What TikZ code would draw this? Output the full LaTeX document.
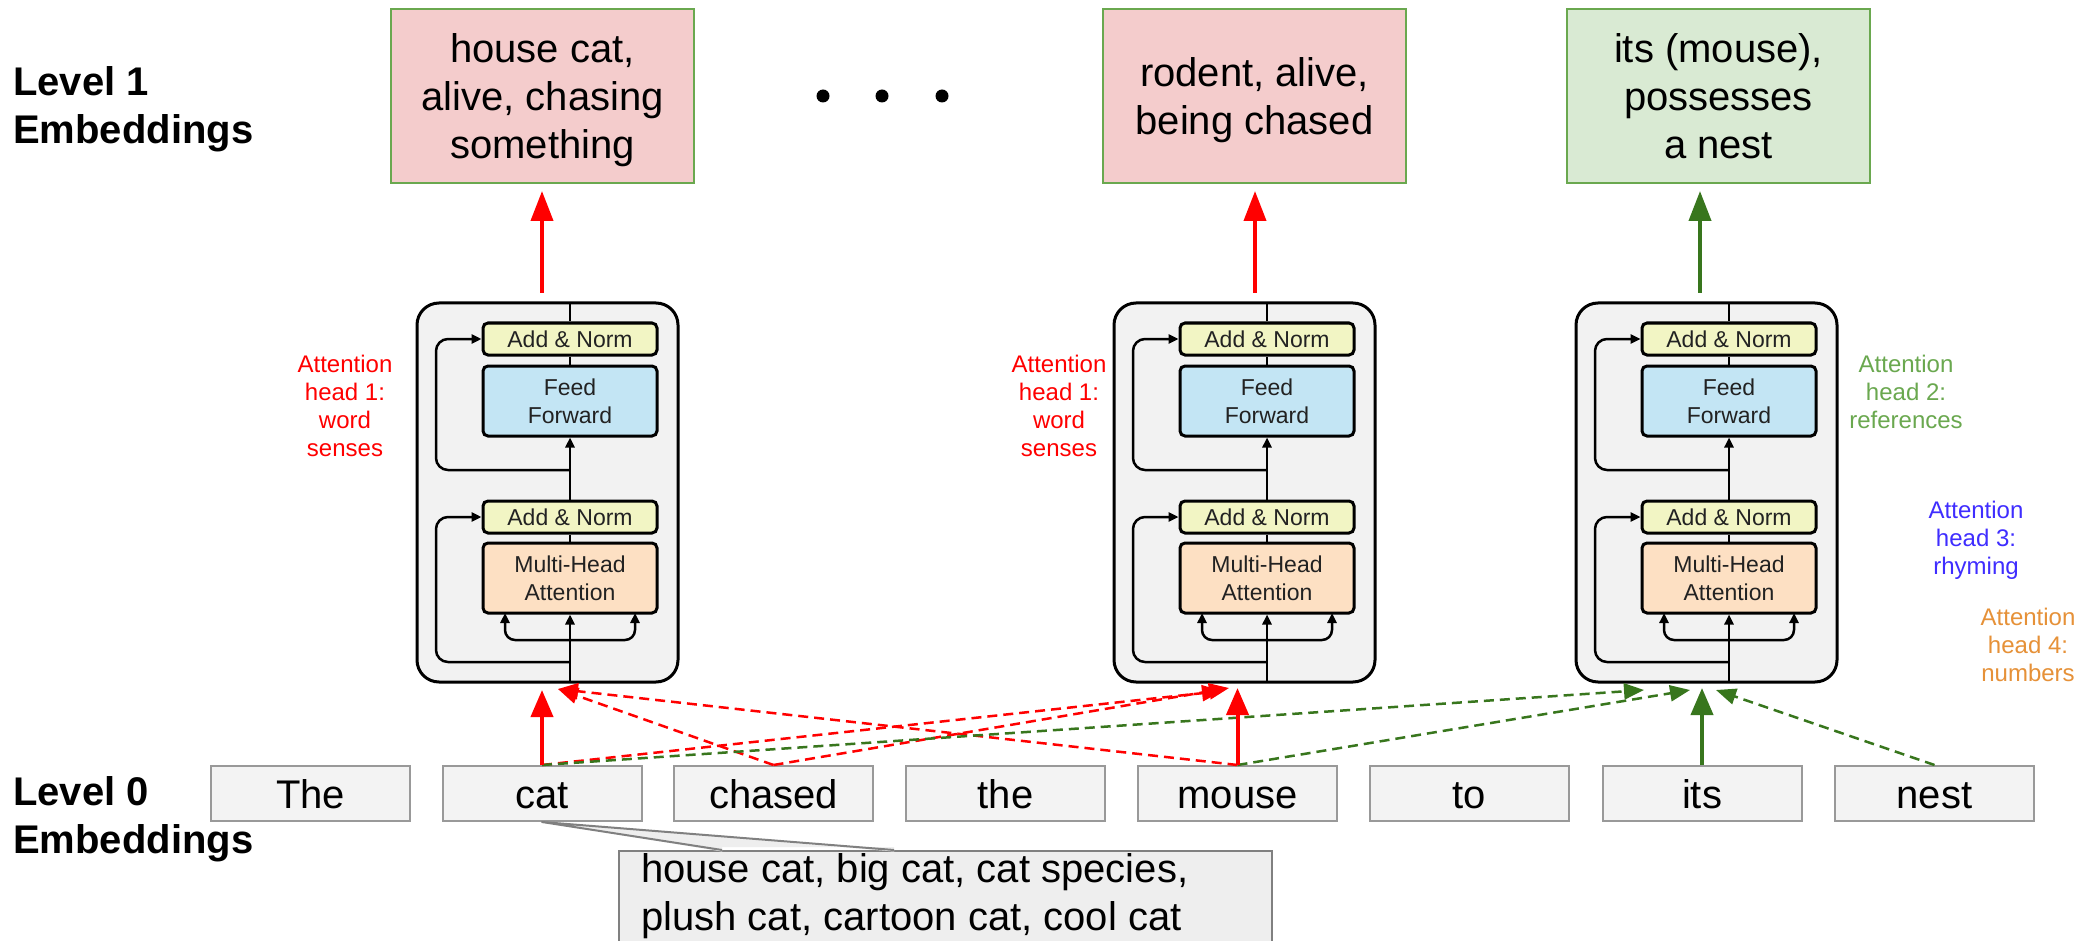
\documentclass[tikz,border=0pt]{standalone}
\usepackage{fontspec}
\setmainfont{Liberation Sans}
\usetikzlibrary{arrows.meta}
\definecolor{pinkfill}{HTML}{F4CCCC}
\definecolor{greenfill}{HTML}{D9EAD3}
\definecolor{boxgreen}{HTML}{6AA84F}
\definecolor{darkgreen}{HTML}{38761D}
\definecolor{tokfill}{HTML}{F3F3F3}
\definecolor{tokdraw}{HTML}{999999}
\definecolor{blkfill}{HTML}{F2F2F2}
\definecolor{anfill}{HTML}{F2F5C4}
\definecolor{fffill}{HTML}{C3E5F4}
\definecolor{mhfill}{HTML}{FDE0C3}
\definecolor{callfill}{HTML}{EEEEEE}
\definecolor{calldraw}{HTML}{808080}
\definecolor{labgreen}{HTML}{6AA84F}
\definecolor{labblue}{HTML}{3F2DFF}
\definecolor{laborange}{HTML}{E69138}
\definecolor{inktext}{HTML}{222222}

\newcommand{\tblock}[2]{%
  \node[blkbox] (#2-blk) at ({#1-22.5},492.5) {};
  \node[anbox] (#2-an2) at (#1,339) {Add \& Norm};
  \node[ffbox] (#2-ff) at (#1,401) {Feed\\Forward};
  \node[anbox] (#2-an1) at (#1,517) {Add \& Norm};
  \node[mhbox] (#2-mh) at (#1,578) {Multi-Head\\Attention};
  \coordinate (#2-in) at (#1,682);
  \coordinate (#2-out) at (#1,303);
  \draw[bline] (#2-out) -- (#2-an2);
  \draw[bline] (#2-an2) -- (#2-ff);
  \draw[barrow] (#2-an1) -- (#2-ff);
  \draw[bline] (#2-an1) -- (#2-mh);
  \draw[barrow] (#2-in) -- (#2-mh);
  \draw[barrow, rounded corners=12pt] (#1,662) -- ({#1-134},662) -- ({#1-134},517) -- (#2-an1.west);
  \draw[barrow, rounded corners=12pt] (#1,470) -- ({#1-134},470) -- ({#1-134},339) -- (#2-an2.west);
  \draw[barrow, rounded corners=10pt] (#1,640) -- ({#1-65},640) -- ({#1-65},613);
  \draw[barrow, rounded corners=10pt] (#1,640) -- ({#1+65},640) -- ({#1+65},613);
}

\begin{document}
\begin{tikzpicture}[x=1pt,y=-1pt,
  topbox/.style={draw=boxgreen, line width=2pt, minimum width=303pt, minimum height=174pt,
    align=center, inner sep=0pt, text depth=0pt, font=\fontsize{40pt}{48pt}\selectfont},
  tokbox/.style={draw=tokdraw, fill=tokfill, line width=2pt, minimum width=199pt, minimum height=55pt,
    inner sep=0pt, text height=29pt, text depth=0pt, font=\fontsize{40pt}{48pt}\selectfont},
  levlab/.style={anchor=north west, inner sep=0pt, align=left, font=\fontsize{40pt}{48pt}\selectfont\bfseries},
  attlab/.style={anchor=north, inner sep=0pt, align=center, font=\fontsize{24pt}{28pt}\selectfont},
  blkbox/.style={draw=black, fill=blkfill, line width=3pt, rounded corners=22pt, minimum width=261pt, minimum height=379pt},
  inbox/.style={draw=black, line width=3pt, rounded corners=5pt, minimum width=174pt, align=center,
    inner sep=0pt, text=inktext, font=\fontsize{23pt}{28pt}\selectfont},
  anbox/.style={inbox, fill=anfill, minimum height=32pt},
  ffbox/.style={inbox, fill=fffill, minimum height=70pt},
  mhbox/.style={inbox, fill=mhfill, minimum height=70pt},
  bline/.style={draw=black, line width=2.5pt},
  barrow/.style={bline, -{Triangle[length=10pt,width=9pt]}},
  redsolid/.style={draw=red, line width=4pt, -{Triangle[length=27pt,width=22pt]}},
  greensolid/.style={draw=darkgreen, line width=4pt, -{Triangle[length=27pt,width=22pt]}},
  reddash/.style={draw=red, line width=2.5pt, dash pattern=on 10pt off 6pt, -{Triangle[length=20pt,width=16pt]}},
  greendash/.style={draw=darkgreen, line width=2.5pt, dash pattern=on 10pt off 6pt, -{Triangle[length=20pt,width=16pt]}},
]
\useasboundingbox[fill=white] (0,0) rectangle (2080,941);

% level labels
\node[levlab] (lev1) at (13,66.4) {Level 1\\Embeddings};
\node[levlab] (lev0) at (13,776.4) {Level 0\\Embeddings};

% top embeddings
\node[topbox, fill=pinkfill] (t1) at (542.5,96) {house cat,\\alive, chasing\\something};
\node[topbox, fill=pinkfill] (t2) at (1254.5,96) {rodent, alive,\\being chased};
\node[topbox, fill=greenfill] (t3) at (1718.5,96) {its (mouse),\\possesses\\a nest};

% dots
\fill (823,96) circle (6.5);
\fill (882,96) circle (6.5);
\fill (942,96) circle (6.5);

% transformer blocks
\tblock{570}{b1}
\tblock{1267}{b2}
\tblock{1729}{b3}

% attention labels
\node[attlab, text=red] (lab1) at (345,355) {Attention\\head 1:\\word\\senses};
\node[attlab, text=red] (lab2) at (1059,355) {Attention\\head 1:\\word\\senses};
\node[attlab, text=labgreen] (lab3) at (1906,355) {Attention\\head 2:\\references};
\node[attlab, text=labblue] (lab4) at (1976,501) {Attention\\head 3:\\rhyming};
\node[attlab, text=laborange] (lab5) at (2028,608) {Attention\\head 4:\\numbers};

% tokens
\node[tokbox] (w1) at (310.5,793.5) {The};
\node[tokbox] (w2) at (542,793.5) {cat};
\node[tokbox] (w3) at (773.5,793.5) {chased};
\node[tokbox] (w4) at (1005.5,793.5) {the};
\node[tokbox] (w5) at (1237.5,793.5) {mouse};
\node[tokbox] (w6) at (1469,793.5) {to};
\node[tokbox] (w7) at (1702,793.5) {its};
\node[tokbox] (w8) at (1934.5,793.5) {nest};

% callout
\node[draw=calldraw, fill=callfill, line width=2pt, anchor=north west, minimum width=653pt, minimum height=120pt,
  inner sep=0pt] (call) at (618,850) {};
\node[anchor=north west, inner sep=0pt, align=left, font=\fontsize{40pt}{48pt}\selectfont] (calltext) at (641,853)
  {house cat, big cat, cat species,\\plush cat, cartoon cat, cool cat};
\coordinate (cw1) at (722,850);
\coordinate (cw2) at (894,850);
\fill[callfill] ([yshift=-1.5pt]cw1) -- (w2.south) -- ([yshift=-1.5pt]cw2) -- ([yshift=3pt]cw2) -- ([yshift=3pt]cw1) -- cycle;
\draw[calldraw, line width=2pt, line join=round] (cw1) -- (w2.south) -- (cw2);

% arrow tips at blocks
\coordinate (b1-s) at (542,690);
\coordinate (b1-d) at (558,689);
\coordinate (b2-s) at (1237.5,688);
\coordinate (b2-d1) at (1222,691);
\coordinate (b2-d2) at (1229,688);
\coordinate (b3-s) at (1702,688);
\coordinate (b3-d1) at (1644,690);
\coordinate (b3-d2) at (1690,690);
\coordinate (b3-d3) at (1716,690);

\draw[reddash] (w3.north) -- (b1-d);
\draw[reddash] (w5.north) -- (b1-d);
\draw[reddash] (w2.north) -- (b2-d1);
\draw[reddash] (w3.north) -- (b2-d2);
\draw[greendash] (w2.north) -- (b3-d1);
\draw[greendash] (w5.north) -- (b3-d2);
\draw[greendash] (w8.north) -- (b3-d3);
\draw[redsolid] (w2.north) -- (b1-s);
\draw[redsolid] (w5.north) -- (b2-s);
\draw[greensolid] (w7.north) -- (b3-s);

% arrows up to level 1
\coordinate (b1-up) at (542,293);
\coordinate (b2-up) at (1255,293);
\coordinate (b3-up) at (1700,293);
\draw[redsolid, -{Triangle[length=30pt,width=22pt]}, shorten >=7pt] (b1-up) -- (b1-up |- t1.south);
\draw[redsolid, -{Triangle[length=30pt,width=22pt]}, shorten >=7pt] (b2-up) -- (b2-up |- t2.south);
\draw[greensolid, -{Triangle[length=30pt,width=22pt]}, shorten >=7pt] (b3-up) -- (b3-up |- t3.south);
\end{tikzpicture}
\end{document}
